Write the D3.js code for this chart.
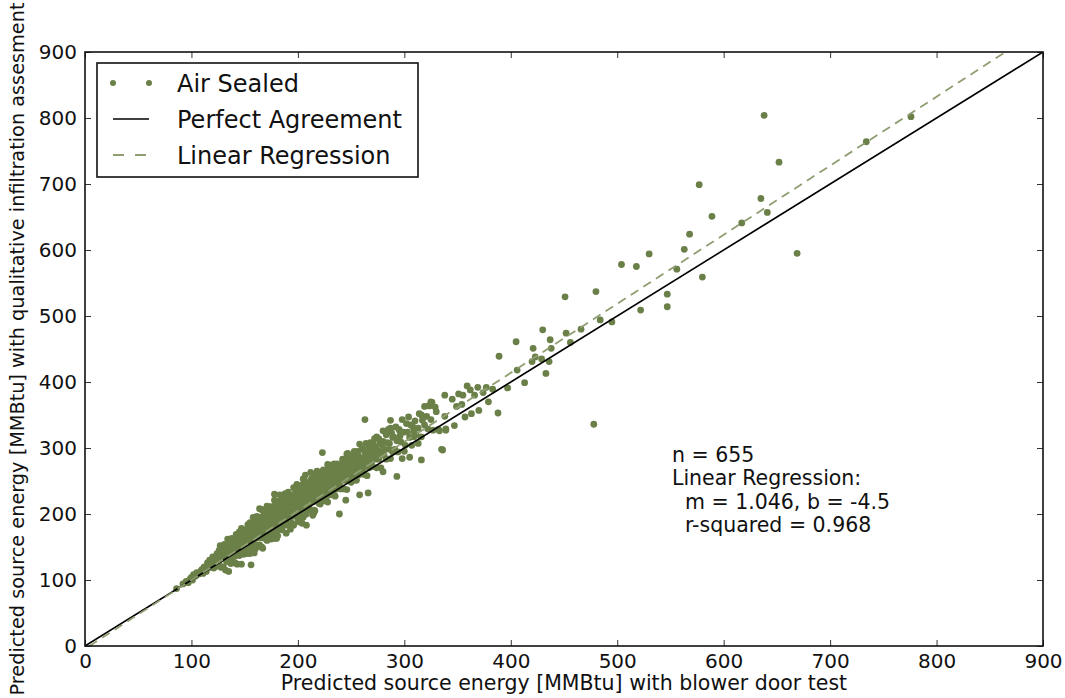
<!DOCTYPE html>
<html>
<head>
<meta charset="utf-8">
<script src="https://cdn.jsdelivr.net/npm/d3@7"></script>
<style>
  body { margin: 0; background: #fff; }
  svg { display: block; }
  text { font-family: "DejaVu Sans", "Liberation Sans", sans-serif; fill: #111; }
</style>
</head>
<body>
<svg id="chart" width="1065" height="698"></svg>
<script>
// Axis ticks (same on both axes)
const tickValues = [0, 100, 200, 300, 400, 500, 600, 700, 800, 900];

// Fitted regression reported in the annotation
const regression = { slope: 1.046, intercept: -4.5 };

const statsLines = ["n = 655", "Linear Regression:", "m = 1.046, b = -4.5", "r-squared = 0.968"];
const legendLabels = ["Air Sealed", "Perfect Agreement", "Linear Regression"];
const xTitle = "Predicted source energy [MMBtu] with blower door test";
const yTitle = "Predicted source energy [MMBtu] with qualitative infiltration assesment";

// Homes: [blower door estimate, qualitative estimate] in MMBtu
const airSealed = [
  [86,87],[92,94],[95,98],[97,96],[99,102],
  [100,104],[101,100],[102,108],[104,106],[105,111],[107,109],[109,114],
  [110,116],[111,110],[112,120],[113,117],[114,113],[115,126],[116,120],[117,130],[118,119],[119,124],
  [120,127],[120,135],[121,118],[122,131],[123,126],[124,140],[124,121],[125,131],[126,145],[126,124],[127,152],[128,134],[128,119],[129,138],[129,148],
  [130,140],[130,120],[131,154],[131,132],[132,115],[132,148],[133,138],[133,128],[134,162],[134,142],[135,113],[135,148],[136,134],[136,156],[137,125],[137,140],[138,163],[138,131],[139,150],[139,146],[140,155],[140,126],
  [140,127],[141,160],[141,146],[142,169],[142,137],[143,156],[143,124],[144,152],[144,144],[145,168],[145,137],[146,162],[146,149],[147,124],[147,157],[147,178],[148,146],[148,155],[148,166],[149,139],[149,164],[149,142],[150,151],[150,172],[141,126],[143,152],[145,173],[147,144],
  [150,168],[151,147],[151,155],[152,177],[152,140],[153,165],[153,184],[154,154],[154,163],[155,140],[155,178],[155,170],[156,149],[156,162],[156,184],[157,148],[157,177],[157,159],[158,195],[158,166],[158,172],[159,153],[159,186],[159,164],[160,147],[160,180],[151,160],[153,152],[155,187],[157,172],[159,141],[152,171],[154,156],[156,180],[156,123],
  [160,154],[161,187],[161,173],[162,196],[162,164],[163,183],[163,151],[164,179],[164,171],[165,195],[165,164],[165,188],[166,176],[166,150],[166,183],[167,205],[167,172],[167,181],[168,193],[168,165],
  [168,190],[169,169],[169,177],[169,198],[170,162],[170,186],[161,196],[162,166],[163,176],[164,153],[165,192],[166,185],[167,164],[168,178],[169,201],[170,165],[160,190],[163,169],[166,207],[169,181],[164,208],[167,148],
  [170,189],[171,170],[171,203],[172,182],[172,164],[173,198],[173,187],[174,178],[174,211],[175,192],[175,162],[175,197],[176,183],[176,205],[176,173],[177,189],[177,211],[177,179],[178,198],[178,194],
  [178,173],[179,206],[179,192],[179,214],[180,183],[180,201],[171,160],[172,188],[173,181],[174,205],[175,175],[176,200],[177,188],[178,163],[179,197],[180,219],[171,177],[172,187],[174,200],[176,174],
  [178,221],[180,163],[171,212],[173,204],[175,166],[177,204],[178,230],
  [180,204],[181,183],[181,191],[182,213],[182,176],[183,201],[183,220],[184,190],[184,199],[185,176],[185,214],[185,206],[186,185],[186,198],[186,220],[187,184],[187,213],[187,195],[188,231],[188,202],
  [188,208],[189,189],[189,222],[189,200],[190,183],[190,216],[181,196],[182,187],[183,218],[184,202],[185,178],[186,204],[187,195],[188,196],[189,203],[190,198],[180,208],[182,212],[184,215],[186,208],
  [188,188],[190,206],[181,167],[183,229],[185,180],[187,226],[189,171],[184,187],
  [190,187],[191,220],[191,206],[192,229],[192,197],[193,216],[193,184],[194,212],[194,204],[195,228],[195,197],[195,221],[196,209],[196,183],[196,216],[197,238],[197,205],[197,214],[198,226],[198,198],
  [198,223],[199,202],[199,210],[199,231],[200,195],[200,219],[191,229],[192,199],[193,195],[194,186],[195,225],[196,218],[197,197],[198,211],[199,234],[200,198],[190,217],[192,201],[194,197],[196,240],
  [198,224],[200,189],[191,233],[193,177],[195,218],[197,203],[199,245],[194,225],
  [200,222],[201,203],[201,236],[202,215],[202,197],[203,231],[203,220],[204,211],[204,244],[205,225],[205,195],[205,230],[206,216],[206,238],[206,206],[207,222],[207,244],[207,212],[208,231],[208,227],
  [208,234],[209,213],[209,221],[209,242],[210,206],[210,230],[201,240],[202,210],[203,230],[204,197],[205,236],[206,229],[207,208],[208,222],[209,245],[210,209],[200,228],[203,213],[206,251],[209,225],
  [202,188],[205,253],[208,200],[201,242],[204,186],[207,259],[208,183],
  [210,209],[211,242],[211,228],[212,251],[212,219],[213,238],[213,206],[214,234],[214,226],[215,250],[215,219],[215,243],[216,231],[216,205],[216,238],[217,260],[217,227],[217,236],[218,248],[218,220],
  [218,241],[219,222],[219,255],[219,233],[220,216],[220,249],[211,229],[212,220],[213,254],[214,235],[215,206],[216,242],[217,228],[218,251],[219,220],[220,236],[210,248],[213,219],[216,240],[219,239],
  [212,263],[215,202],[218,265],[214,198],
  [220,248],[221,227],[221,235],[222,257],[222,220],[223,245],[223,264],[224,234],[224,243],[225,220],[225,258],[225,250],[226,229],[226,242],[226,264],[227,228],[227,257],[227,239],[228,275],[228,246],
  [228,228],[229,261],[229,247],[229,269],[230,238],[230,256],[221,215],[222,243],[223,236],[224,260],[225,230],[226,255],[227,243],[228,218],[229,252],[230,274],[220,231],[224,244],[226,257],[228,231],
  [223,293],[224,267],
  [230,254],[231,235],[231,268],[232,247],[232,229],[233,263],[233,252],[234,243],[234,276],[235,257],[235,227],[235,262],[236,248],[236,270],[236,238],[237,254],[237,276],[237,244],[238,263],[238,259],
  [238,266],[239,245],[239,253],[239,274],[240,238],[240,262],[231,272],[232,242],[233,252],[234,229],[235,268],[236,261],[237,240],[238,254],[239,200],
  [240,241],[241,274],[241,260],[242,283],[242,251],[243,270],[243,238],[244,266],[244,258],[245,282],[245,251],[245,275],[246,263],[246,237],[246,270],[247,292],[247,259],[247,268],[248,280],[248,252],
  [248,273],[249,254],[249,287],[249,265],[250,248],[250,281],[242,262],[246,256],[246,291],[245,221],
  [250,279],[251,258],[251,266],[252,288],[252,251],[253,276],[253,295],[254,265],[254,274],[255,251],[255,289],[255,281],[256,260],[256,273],[256,295],[257,259],[257,288],[257,270],[258,306],[258,277],
  [259,284],[259,264],[260,298],[260,276],[258,229],
  [260,285],[261,266],[261,299],[262,278],[262,260],[263,294],[263,283],[264,274],[264,307],[265,288],[265,258],[266,294],[266,279],[267,302],[267,270],[268,286],[268,308],[269,277],[269,295],[270,292],
  [263,343],[266,232],
  [270,272],[271,305],[271,291],[272,314],[273,283],[273,301],[274,270],[274,297],[275,290],[276,314],[276,283],[277,308],[277,295],[278,270],[279,304],[280,326],[274,317],[280,264],
  [280,310],[281,289],[282,298],[283,320],[283,283],[284,308],[285,328],[286,298],[286,307],[287,284],[288,323],[289,316],[289,294],[287,342],[287,330],
  [290,317],[291,298],[292,332],[293,311],[294,294],[295,328],[296,318],[297,309],[298,343],[299,324],[300,295],[293,257],[296,325],[298,284],
  [301,304],[302,337],[303,324],[304,347],[305,316],[306,335],[307,304],[308,332],[309,325],[305,286],[309,317],[313,307],
  [310,341],[311,320],[313,330],[314,352],[316,317],[317,342],[319,363],[316,350],[316,282],[319,335],
  [321,348],[322,329],[324,364],[325,343],[327,327],[329,362],[323,364],[325,370],[332,328],[339,327],[335,298],
  [326,369],[330,355],[333,326],[339,329],[336,297],[347,334],[338,348],[357,347],[363,352],[370,357],[388,353],
  [349,363],[354,366],[379,370],[366,380],[374,384],[345,374],[338,380],[355,380],[351,382],[359,394],[362,388],
  [369,392],[377,392],[383,389],[397,391],[413,399],[433,413],[406,418],[420,431],[436,431],[429,435],[423,438],
  [389,439],[421,451],[438,451],[405,461],[456,460],[437,464],[452,474],[466,480],[430,479],[484,494],[495,491],
  [522,509],[547,514],[547,533],[451,529],[480,537],[478,336],[504,578],[518,575],[530,594],[556,571],[563,601],
  [568,624],[580,559],[577,699],[589,651],[617,641],[635,678],[641,657],[638,804],[652,733],[669,595],[734,764],[776,802]
];

const svg = d3.select("#chart");
const margin = { left: 85, right: 22, top: 52, bottom: 52 };
const W = 1065, H = 698;

const x = d3.scaleLinear().domain([0, 900]).range([margin.left, W - margin.right]);
const y = d3.scaleLinear().domain([0, 900]).range([H - margin.bottom, margin.top]);

svg.append("defs").append("clipPath").attr("id", "plotClip")
  .append("rect")
  .attr("x", x(0)).attr("y", y(900))
  .attr("width", x(900) - x(0)).attr("height", y(0) - y(900));

const plot = svg.append("g").attr("clip-path", "url(#plotClip)");

const pointColor = "#6b8048";
const dashColor = "#8f9e72";

// Scatter of homes
plot.append("g").selectAll("circle")
  .data(airSealed)
  .join("circle")
  .attr("cx", d => x(d[0]))
  .attr("cy", d => y(d[1]))
  .attr("r", 3.4)
  .attr("fill", pointColor);

// 1:1 line
plot.append("line")
  .attr("x1", x(0)).attr("y1", y(0))
  .attr("x2", x(900)).attr("y2", y(900))
  .attr("stroke", "#000").attr("stroke-width", 1.6);

// Regression fit y = m x + b
const regX0 = -regression.intercept / regression.slope;
const regX1 = (900 - regression.intercept) / regression.slope;
plot.append("line")
  .attr("x1", x(regX0)).attr("y1", y(regression.slope * regX0 + regression.intercept))
  .attr("x2", x(regX1)).attr("y2", y(regression.slope * regX1 + regression.intercept))
  .attr("stroke", dashColor).attr("stroke-width", 1.8)
  .attr("stroke-dasharray", "9,6");

// Axes with inward ticks on all four sides
const tickLen = 6;
const fontSize = 20;

const bottomAxis = svg.append("g")
  .attr("transform", `translate(0,${y(0)})`)
  .call(d3.axisBottom(x).tickValues(tickValues).tickFormat(d3.format("d"))
    .tickSizeInner(-tickLen).tickSizeOuter(0).tickPadding(8));
const leftAxis = svg.append("g")
  .attr("transform", `translate(${x(0)},0)`)
  .call(d3.axisLeft(y).tickValues(tickValues).tickFormat(d3.format("d"))
    .tickSizeInner(-tickLen).tickSizeOuter(0).tickPadding(8));
const topAxis = svg.append("g")
  .attr("transform", `translate(0,${y(900)})`)
  .call(d3.axisTop(x).tickValues(tickValues).tickFormat("")
    .tickSizeInner(-tickLen).tickSizeOuter(0));
const rightAxis = svg.append("g")
  .attr("transform", `translate(${x(900)},0)`)
  .call(d3.axisRight(y).tickValues(tickValues).tickFormat("")
    .tickSizeInner(-tickLen).tickSizeOuter(0));

[bottomAxis, leftAxis, topAxis, rightAxis].forEach(g => {
  g.select(".domain").remove();
  g.selectAll(".tick line").attr("stroke", "#333").attr("stroke-width", 1);
  g.selectAll(".tick text")
    .attr("font-size", fontSize)
    .attr("font-family", "DejaVu Sans")
    .attr("fill", "#111");
});

// Frame
svg.append("rect")
  .attr("x", x(0)).attr("y", y(900))
  .attr("width", x(900) - x(0)).attr("height", y(0) - y(900))
  .attr("fill", "none").attr("stroke", "#111").attr("stroke-width", 1.6);

// Axis titles
svg.append("text")
  .attr("x", (x(0) + x(900)) / 2).attr("y", 690)
  .attr("text-anchor", "middle").attr("font-size", 20.5)
  .text(xTitle);

svg.append("text")
  .attr("transform", `translate(24,${(y(0) + y(900)) / 2}) rotate(-90)`)
  .attr("text-anchor", "middle").attr("font-size", 19.3)
  .text(yTitle);

// Legend
const legend = svg.append("g").attr("transform", "translate(97,63)");
legend.append("rect")
  .attr("width", 321).attr("height", 114)
  .attr("fill", "#fff").attr("stroke", "#111").attr("stroke-width", 1.6);

const rowY = [20, 56, 92];
legend.selectAll("circle.key")
  .data([16, 52])
  .join("circle").attr("class", "key")
  .attr("cx", d => d).attr("cy", rowY[0]).attr("r", 3)
  .attr("fill", pointColor);
legend.append("line")
  .attr("x1", 16).attr("x2", 52).attr("y1", rowY[1]).attr("y2", rowY[1])
  .attr("stroke", "#000").attr("stroke-width", 1.6);
legend.append("line")
  .attr("x1", 16).attr("x2", 52).attr("y1", rowY[2]).attr("y2", rowY[2])
  .attr("stroke", dashColor).attr("stroke-width", 1.8)
  .attr("stroke-dasharray", "11,11");
legend.selectAll("text")
  .data(legendLabels)
  .join("text")
  .attr("x", 80).attr("y", (d, i) => rowY[i])
  .attr("dy", "0.36em")
  .attr("font-size", 24)
  .text(d => d);

// Fit statistics
const stats = svg.append("g");
stats.selectAll("text")
  .data(statsLines)
  .join("text")
  .attr("x", (d, i) => i < 2 ? 672 : 685)
  .attr("y", (d, i) => 462 + i * 23.3)
  .attr("font-size", 20.5)
  .text(d => d);
</script>
</body>
</html>
